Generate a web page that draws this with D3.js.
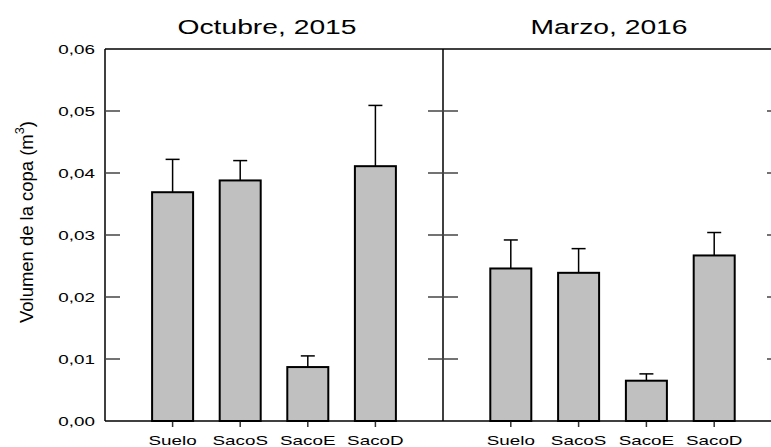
<!DOCTYPE html>
<html>
<head>
<meta charset="utf-8">
<script src="https://cdn.jsdelivr.net/npm/d3@7"></script>
<style>
  html, body { margin: 0; padding: 0; background: #fff; }
  svg { display: block; }
  text { font-family: "Liberation Sans", Arial, sans-serif; fill: #000; }
</style>
</head>
<body>
<svg id="chart" width="771" height="447"></svg>
<script>
// ---- data ----
const categories = ["Suelo", "SacoS", "SacoE", "SacoD"];
const panelTitles = ["Octubre, 2015", "Marzo, 2016"];
const octubreMeans = [0.0369, 0.0388, 0.0087, 0.0411];
const octubreErrors = [0.0053, 0.0032, 0.0018, 0.0098];
const marzoMeans = [0.0246, 0.0239, 0.0065, 0.0267];
const marzoErrors = [0.0046, 0.0039, 0.0011, 0.0037];
const yTicks = [0, 0.01, 0.02, 0.03, 0.04, 0.05, 0.06];
const yLabel = "Volumen de la copa (m";

const panels = [
  { title: panelTitles[0], means: octubreMeans, errors: octubreErrors },
  { title: panelTitles[1], means: marzoMeans, errors: marzoErrors }
];

// ---- layout ----
const svg = d3.select("#chart");
const pLeft = 105, pMid = 443, pRight = 782, pTop = 49, pBottom = 421;
const stretch = 1.45;           // horizontal glyph stretch seen in the reference
const y = d3.scaleLinear().domain([0, 0.06]).range([pBottom, pTop]);
const xPanels = [
  d3.scaleLinear().domain([0, categories.length + 1]).range([pLeft, pMid]),
  d3.scaleLinear().domain([0, categories.length + 1]).range([pMid, pRight])
];
const barW = 41, capW = 14;
const fmt = d => d3.format(".2f")(d).replace(".", ",");

// bars + error bars
panels.forEach((p, pi) => {
  const x = xPanels[pi];
  const g = svg.append("g");
  const data = categories.map((c, i) => ({ c, i, m: p.means[i], e: p.errors[i] }));
  g.selectAll("line.err").data(data).join("line").attr("class", "err")
    .attr("x1", d => x(d.i + 1)).attr("x2", d => x(d.i + 1))
    .attr("y1", d => y(d.m)).attr("y2", d => y(d.m + d.e))
    .attr("stroke", "#000").attr("stroke-width", 1.5);
  g.selectAll("line.cap").data(data).join("line").attr("class", "cap")
    .attr("x1", d => x(d.i + 1) - capW / 2).attr("x2", d => x(d.i + 1) + capW / 2)
    .attr("y1", d => y(d.m + d.e)).attr("y2", d => y(d.m + d.e))
    .attr("stroke", "#000").attr("stroke-width", 1.5);
  g.selectAll("rect").data(data).join("rect")
    .attr("x", d => x(d.i + 1) - barW / 2)
    .attr("width", barW)
    .attr("y", d => y(d.m))
    .attr("height", d => y(0) - y(d.m))
    .attr("fill", "#c0c0c0").attr("stroke", "#000").attr("stroke-width", 2);

  // x ticks (outward)
  g.selectAll("line.xt").data(data).join("line").attr("class", "xt")
    .attr("x1", d => x(d.i + 1)).attr("x2", d => x(d.i + 1))
    .attr("y1", pBottom).attr("y2", pBottom + 6)
    .attr("stroke", "#333").attr("stroke-width", 1.5);
  // x labels
  g.selectAll("text.xl").data(data).join("text").attr("class", "xl")
    .attr("transform", d => `translate(${x(d.i + 1)},445) scale(${stretch},1)`)
    .attr("text-anchor", "middle").attr("font-size", 13)
    .text(d => d.c);
  // title
  const titleX = pi === 0 ? 267 : 609;
  g.append("text")
    .attr("transform", `translate(${titleX},34) scale(${stretch},1)`)
    .attr("text-anchor", "middle").attr("font-size", 19.5)
    .text(p.title);
});

// frame
const frame = svg.append("g").attr("stroke", "#000").attr("stroke-width", 1.5).attr("fill", "none");
frame.append("line").attr("x1", pLeft).attr("x2", pRight).attr("y1", pTop).attr("y2", pTop);
frame.append("line").attr("x1", pLeft).attr("x2", pRight).attr("y1", pBottom).attr("y2", pBottom);
[pLeft, pMid, pRight].forEach(xx =>
  frame.append("line").attr("x1", xx).attr("x2", xx).attr("y1", pTop).attr("y2", pBottom));

// y ticks: inward on left axis, both sides on middle divider, inward on right axis
const innerTicks = yTicks.slice(1, -1);
const tickG = svg.append("g").attr("stroke", "#444").attr("stroke-width", 1.5);
innerTicks.forEach(t => {
  tickG.append("line").attr("x1", pLeft).attr("x2", pLeft + 15).attr("y1", y(t)).attr("y2", y(t));
  tickG.append("line").attr("x1", pMid - 15).attr("x2", pMid + 15).attr("y1", y(t)).attr("y2", y(t));
  tickG.append("line").attr("x1", pRight - 15).attr("x2", pRight).attr("y1", y(t)).attr("y2", y(t));
});

// y tick labels
svg.append("g").selectAll("text").data(yTicks).join("text")
  .attr("transform", d => `translate(95,${y(d) + 5}) scale(${stretch},1)`)
  .attr("text-anchor", "end").attr("font-size", 13)
  .text(fmt);

// y axis title
const yt = svg.append("text")
  .attr("transform", `translate(33,222) rotate(-90) scale(1.42,${stretch})`)
  .attr("text-anchor", "middle").attr("font-size", 13);
yt.append("tspan").text(yLabel);
yt.append("tspan").attr("font-size", 9).attr("dy", -6).text("3");
yt.append("tspan").attr("dy", 6).text(")");
</script>
</body>
</html>
